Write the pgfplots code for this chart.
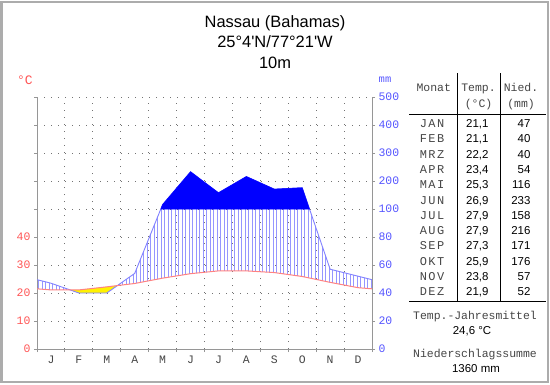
\documentclass[border=0pt]{standalone}
\usepackage{fontspec}
\setmainfont{Liberation Sans}[Ligatures=TeXOff]
\newfontfamily\mono{Liberation Mono}
\usepackage{pgfplots}
\usepackage{pgfplotstable}
\pgfplotsset{compat=1.18}
\usetikzlibrary{patterns}

\pgfdeclarepatternformonly{vhatch}{\pgfpoint{-1bp}{-1bp}}{\pgfpoint{1bp}{4.5bp}}{\pgfpoint{3.5bp}{3.5bp}}{%
  \pgfsetlinewidth{0.8bp}%
  \pgfpathmoveto{\pgfpoint{0bp}{-0.5bp}}%
  \pgfpathlineto{\pgfpoint{0bp}{4bp}}%
  \pgfusepath{stroke}}

\definecolor{tred}{RGB}{255,85,85}
\definecolor{pblue}{RGB}{85,85,255}
\definecolor{tline}{RGB}{255,130,130}
\definecolor{pline}{RGB}{130,130,255}
\definecolor{hatch}{RGB}{150,150,255}
\definecolor{axgray}{RGB}{150,150,150}
\definecolor{txtgray}{RGB}{70,70,70}

% temperature (deg C), month centres at 0.5..11.5, edges = mean of Dec/Jan
\pgfplotstableread{
x    T
0    21.5
0.5  21.1
1.5  21.1
2.5  22.2
3.5  23.4
4.5  25.3
5.5  26.9
6.5  27.9
7.5  27.9
8.5  27.3
9.5  25.9
10.5 23.8
11.5 21.9
12   21.5
}\temptable

% precipitation: mm, and y on the temperature scale (mm/2 up to 100 mm, then 10 per 100 mm)
\pgfplotstableread{
x    mm    y
0    49.5  24.75
0.5  47    23.5
1.5  40    20
2.5  40    20
3.5  54    27
4.5  116   51.6
5.5  233   63.3
6.5  158   55.8
7.5  216   61.6
8.5  171   57.1
9.5  176   57.6
10.5 57    28.5
11.5 52    26
12   49.5  24.75
}\prectable

% part above 100 mm (perhumid), closed at the 100 mm level
\pgfplotstableread{
x     y
4.435 50
4.5   51.6
5.5   63.3
6.5   55.8
7.5   61.6
8.5   57.1
9.5   57.6
9.761 50
}\wettable

% humid part (precipitation above temperature, capped at 100 mm), Jan side
\pgfplotstableread{
x     y
0     24.75
0.5   23.5
1.186 21.1
0.5   21.1
0     21.5
}\humidA

% humid part, Mar..Dec
\pgfplotstableread{
x     y
2.879 22.655
3.5   27
4.435 50
9.761 50
10.5  28.5
11.5  26
12    24.75
12    21.5
11.5  21.9
10.5  23.8
9.5   25.9
8.5   27.3
7.5   27.9
6.5   27.9
5.5   26.9
4.5   25.3
3.5   23.4
}\humidB

% arid part (temperature above precipitation)
\pgfplotstableread{
x     y
1.186 21.1
1.5   21.1
2.5   22.2
2.879 22.655
2.5   20
1.5   20
}\aridtable

\newcommand{\mf}[1]{\mono\fontsize{#1}{#1}\selectfont}
\newcommand{\sfs}[1]{\fontsize{#1}{#1}\selectfont}

\begin{document}
\begin{tikzpicture}[x=1bp,y=1bp]
\useasboundingbox (0,0) rectangle (550,384);
\fill[white] (0,0) rectangle (550,384);

\begin{axis}[
  at={(37bp,35bp)}, anchor=south west,
  scale only axis, width=335bp, height=252bp,
  xmin=0, xmax=12, ymin=0, ymax=90,
  axis x line*=bottom, axis y line*=left,
  every outer x axis line/.append style={-},
  every outer y axis line/.append style={-},
  axis line style={axgray, line width=1bp, -},
  xtick={0,...,12},
  xticklabels={J,F,M,A,M,J,J,A,S,O,N,D},
  x tick label as interval,
  ytick={0,10,...,90},
  yticklabels={0,10,20,30,40,,,,,},
  tick style={axgray, line width=1bp},
  major tick length=3bp, tick align=outside,
  xticklabel style={font=\mf{11.5}, text=txtgray},
  yticklabel style={font=\mf{11.5}, text=tred},
  grid=major,
  major grid style={black!55, line width=1bp, dash pattern=on 1bp off 6bp},
]
\addplot[draw=none, pattern=vhatch, pattern color=hatch, mark=none] table[x=x, y=y] {\humidA} -- cycle;
\addplot[draw=none, pattern=vhatch, pattern color=hatch, mark=none] table[x=x, y=y] {\humidB} -- cycle;
\addplot[draw=none, fill=yellow, mark=none] table[x=x, y=y] {\aridtable} -- cycle;

\addplot[draw=pline, line width=0.9bp, mark=none] table[x=x, y=y] {\prectable};
\addplot[draw=tline, line width=1bp, mark=none] table[x=x, y=T] {\temptable};

\addplot[fill=blue, draw=blue, line width=0.5bp, mark=none] table[x=x, y=y] {\wettable} -- cycle;
\end{axis}

\begin{axis}[
  at={(37bp,35bp)}, anchor=south west,
  scale only axis, width=335bp, height=252bp,
  xmin=0, xmax=12, ymin=0, ymax=90,
  axis x line=none, axis y line*=right,
  every outer y axis line/.append style={-},
  axis line style={axgray, line width=1bp, -},
  ytick={0,10,...,90},
  yticklabels={0,20,40,60,80,100,200,300,400,500},
  tick style={axgray, line width=1bp},
  major tick length=3bp, tick align=outside,
  yticklabel style={font=\mf{11.5}, text=pblue},
]
\addplot[draw=none] coordinates {(0,0)};
\end{axis}

% unit labels
\node[text=tred, font=\mf{13}] at (25,304) {°C};
\node[text=pblue, font=\mf{10.5}] at (385,304) {mm};

% title
\node[anchor=base, font=\sfs{16.5}] at (275,356.5) {Nassau (Bahamas)};
\node[anchor=base, font=\sfs{16.5}] at (275,336.5) {25°4'N/77°21'W};
\node[anchor=base, font=\sfs{16.5}] at (275,315.5) {10m};

% table
\draw[black, line width=1bp] (409,270) -- (546,270);
\draw[black, line width=1bp] (409,83) -- (546,83);
\draw[black, line width=1bp] (457,311) -- (457,83);
\draw[black, line width=1bp] (500,311) -- (500,83);

\node[anchor=base west, font=\mf{11.5}, text=txtgray] at (413,293) {Monat};
\node[anchor=base, font=\mf{11.5}, text=txtgray] at (478.5,293) {Temp.};
\node[anchor=base, font=\mf{11.5}, text=txtgray] at (478.5,277) {(°C)};
\node[anchor=base, font=\mf{11.5}, text=txtgray] at (521,293) {Nied.};
\node[anchor=base, font=\mf{11.5}, text=txtgray] at (521,277) {(mm)};

\foreach \m/\t/\p [count=\i from 0] in {JAN/{21,1}/47, FEB/{21,1}/40, MRZ/{22,2}/40, APR/{23,4}/54, MAI/{25,3}/116, JUN/{26,9}/233, JUL/{27,9}/158, AUG/{27,9}/216, SEP/{27,3}/171, OKT/{25,9}/176, NOV/{23,8}/57, DEZ/{21,9}/52}{
  \pgfmathsetmacro{\yy}{256.5-15.3*\i}
  \node[anchor=base, font=\mf{12}\addfontfeature{LetterSpace=12}, text=txtgray] at (432,\yy) {\m};
  \node[anchor=base east, font=\sfs{11.5}] at (492,\yy) {\t};
  \node[anchor=base east, font=\sfs{11.5}] at (534,\yy) {\p};
}

\node[anchor=base, font=\mf{11.5}, text=txtgray] at (475,65) {Temp.-Jahresmittel};
\node[anchor=base, font=\sfs{11.5}] at (472,50) {24,6 °C};
\node[anchor=base, font=\mf{11.5}, text=txtgray] at (475,27) {Niederschlagssumme};
\node[anchor=base, font=\sfs{11.5}] at (476,12) {1360 mm};

% frame
\draw[gray!65, line width=2bp] (1.5,2.5) rectangle (547.5,381.5);
\end{tikzpicture}
\end{document}
